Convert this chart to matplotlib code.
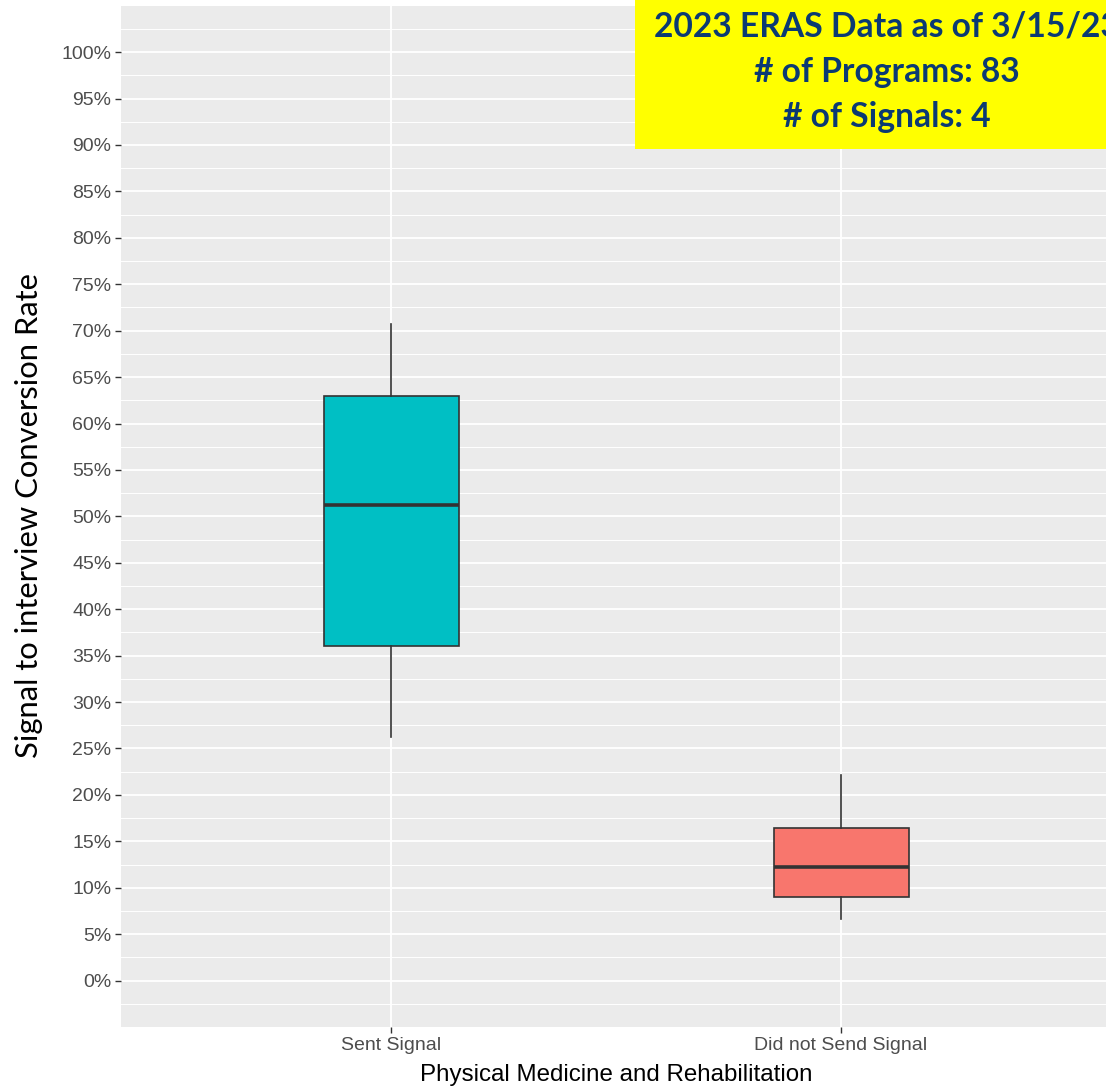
import matplotlib.pyplot as plt
from matplotlib.patches import Rectangle
import numpy as np

# box summary values (percent)
groups = ['Sent Signal', 'Did not Send Signal']
whislo = [26.2, 6.6]
q1 = [36.0, 9.0]
med = [51.2, 12.25]
q3 = [63.0, 16.4]
whishi = [70.7, 22.1]
fills = ['#00BFC4', '#F8766D']

info_lines = ['2023 ERAS Data as of 3/15/23', '# of Programs: 83', '# of Signals: 4']

W, H = 1106, 1086
fig = plt.figure(figsize=(W / 100, H / 100), dpi=100)
ax = fig.add_axes([121 / W, (H - 1027) / H, 990 / W, (1027 - 5.7) / H])
ax.set_facecolor('#EBEBEB')
for s in ax.spines.values():
    s.set_visible(False)

stats = []
for i, g in enumerate(groups):
    stats.append(dict(label=g, whislo=whislo[i], q1=q1[i], med=med[i], q3=q3[i], whishi=whishi[i]))

pos = np.arange(1, len(groups) + 1)
bp = ax.bxp(stats, positions=pos, widths=0.3, patch_artist=True, showcaps=False, showfliers=False,
            boxprops=dict(edgecolor='#333333', linewidth=1.2),
            whiskerprops=dict(color='#333333', linewidth=1.2),
            medianprops=dict(color='#333333', linewidth=2.6))
for patch, c in zip(bp['boxes'], fills):
    patch.set_facecolor(c)
for art in bp['boxes'] + bp['whiskers'] + bp['medians']:
    art.set_zorder(3)

ax.set_xlim(0.4, 2.6)
ax.set_ylim(-5, 105)
yt = np.arange(0, 101, 5)
ax.set_yticks(yt)
ax.set_yticklabels([f'{v}%' for v in yt])
ax.set_yticks(np.arange(-2.5, 105, 5), minor=True)
ax.set_xticks(pos)
ax.set_xticklabels(groups)
ax.grid(True, which='major', color='white', linewidth=1.3, zorder=0)
ax.grid(True, which='minor', axis='y', color='white', linewidth=0.7, zorder=0)
ax.set_axisbelow(True)
ax.tick_params(which='major', length=4, width=1, color='#333333', labelcolor='#4D4D4D',
               labelsize=14, pad=3)
ax.tick_params(which='minor', length=0)
for lab in ax.get_xticklabels() + ax.get_yticklabels():
    lab.set_fontfamily('Liberation Sans')

fig.text(616 / W, 1 - 1075 / H, 'Physical Medicine and Rehabilitation', ha='center', va='center',
         fontsize=17.4, family='Liberation Sans', color='black')
fig.text(29 / W, 1 - 515 / H, 'Signal to interview Conversion Rate', rotation=90, ha='center',
         va='center', fontsize=22.3, family='Lato', color='black')

# yellow info box in the top right (runs past the right edge, as in the source)
fig.patches.append(Rectangle((635 / W, 1 - 149 / H), 505 / W, 149 / H, transform=fig.transFigure,
                             facecolor='#FFFF00', edgecolor='none', zorder=5))
for txt, base in zip(info_lines, [37, 82, 127]):
    fig.text(887 / W, 1 - base / H, txt, ha='center', va='baseline', fontsize=24.2,
             fontweight='bold', family='Lato', color='#0B3A73', zorder=6)

fig.savefig('out.png', dpi=100)
